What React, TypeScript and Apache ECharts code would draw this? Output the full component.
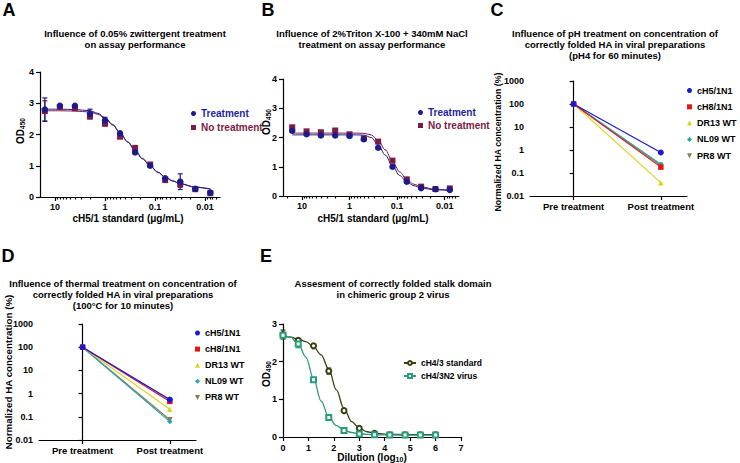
import React, { useEffect, useRef } from 'react';
import * as echarts from 'echarts';

const FONT = '"Liberation Sans", Arial, Helvetica, sans-serif';

// ---------- Panels A & B : cH5/1 standard 2-fold dilutions ----------
const concentrations = [16, 8, 4, 2, 1, 0.5, 0.25, 0.125, 0.0625, 0.03125, 0.015625, 0.0078125];
const aTreatment = [2.8, 2.92, 2.92, 2.66, 2.45, 2.04, 1.43, 1.0, 0.6, 0.49, 0.26, 0.14];
const aTreatmentErr = [0.37, 0, 0, 0.15, 0.1, 0, 0.05, 0, 0, 0.25, 0, 0];
const aNoTreatment = [2.75, 2.88, 2.84, 2.58, 2.35, 1.93, 1.56, 1.04, 0.54, 0.41, 0.25, 0.12];
const aNoTreatmentErr = [0.33, 0, 0, 0.08, 0.08, 0, 0.09, 0.04, 0, 0.1, 0, 0];
const fitConcentrations = [16, 8, 4, 2, 1.4, 1, 0.7, 0.5, 0.35, 0.25, 0.177, 0.125, 0.088, 0.0625, 0.044, 0.03125, 0.0156, 0.0078];
const aTreatmentFit = [2.81, 2.81, 2.8, 2.76, 2.68, 2.54, 2.32, 2.06, 1.76, 1.48, 1.22, 0.99, 0.79, 0.63, 0.51, 0.42, 0.31, 0.25];
const aNoTreatmentFit = [2.76, 2.76, 2.75, 2.72, 2.65, 2.51, 2.3, 2.05, 1.76, 1.49, 1.23, 1.0, 0.8, 0.64, 0.52, 0.43, 0.32, 0.26];

const bTreatment = [2.23, 2.11, 2.07, 2.07, 2.05, 1.94, 1.65, 1.0, 0.49, 0.27, 0.23, 0.21];
const bTreatmentErr = [0.05, 0, 0.04, 0, 0, 0.04, 0, 0.05, 0, 0, 0, 0];
const bNoTreatment = [2.35, 2.21, 2.18, 2.24, 2.11, 1.97, 1.86, 1.21, 0.57, 0.32, 0.24, 0.26];
const bNoTreatmentErr = [0.04, 0.04, 0.04, 0.04, 0, 0, 0.05, 0.05, 0, 0, 0, 0.04];
const bTreatmentFit = [2.09, 2.09, 2.09, 2.09, 2.09, 2.09, 2.09, 2.08, 2.0, 1.75, 1.4, 1.02, 0.7, 0.48, 0.35, 0.27, 0.21, 0.19];
const bNoTreatmentFit = [2.15, 2.15, 2.15, 2.15, 2.15, 2.15, 2.15, 2.14, 2.09, 1.9, 1.58, 1.18, 0.82, 0.56, 0.4, 0.31, 0.23, 0.2];

const logTickValues = [0.01, 0.1, 1, 10];
const minorMultipliers = [2, 3, 4, 5, 6, 7, 8, 9];
const minorDecades = [0.001, 0.01, 0.1, 1, 10];

// ---------- Panels C & D : normalized HA concentration ----------
const treatmentCategories = ['Pre treatment', 'Post treatment'];
const strainNames = ['cH5/1N1', 'cH8/1N1', 'DR13 WT', 'NL09 WT', 'PR8 WT'];
const cPre = [100, 100, 100, 100, 100];
const cPost = [0.78, 0.18, 0.038, 0.24, 0.21];
const dPre = [100, 100, 100, 100, 100];
const dPost = [0.55, 0.46, 0.21, 0.062, 0.075];
const concTickLabels = ['0.01', '0.1', '1', '10', '100', '1000'];

// ---------- Panel E : dilution curves ----------
const dilutionLog = [0, 0.6, 1.2, 1.8, 2.4, 3.0, 3.6, 4.2, 4.8, 5.4, 6.0];
const eStandard = [2.72, 2.57, 2.42, 1.75, 0.7, 0.23, 0.1, 0.06, 0.06, 0.06, 0.06];
const eStandardErr = [0.12, 0, 0, 0.08, 0, 0, 0, 0, 0, 0, 0];
const eVirus = [2.7, 2.47, 1.52, 0.52, 0.17, 0.08, 0.06, 0.05, 0.05, 0.05, 0.05];
const eVirusErr = [0, 0.1, 0, 0, 0, 0, 0, 0, 0, 0, 0];
const eFitX = [0, 0.3, 0.6, 0.9, 1.2, 1.5, 1.8, 2.1, 2.4, 2.7, 3.0, 3.3, 3.6, 4.2, 4.8, 5.4, 6.0];
const eStandardFit = [2.67, 2.65, 2.6, 2.53, 2.4, 2.18, 1.8, 1.25, 0.74, 0.41, 0.23, 0.14, 0.1, 0.07, 0.065, 0.065, 0.065];
const eVirusFit = [2.72, 2.65, 2.47, 2.12, 1.55, 0.95, 0.53, 0.3, 0.18, 0.12, 0.09, 0.07, 0.06, 0.055, 0.05, 0.05, 0.05];

// ---------- styles ----------
const NAVY = '#1b1b8c';
const NAVY_TEXT = '#1f1fa3';
const MAROON = '#7c1b47';
const strainColors = ['#1a1ad6', '#e31616', '#d6d620', '#2aa2b2', '#8a7a50'];
const strainSymbols = ['circle', 'rect', 'triangle', 'diamond', 'path://M0,0L10,0L5,10Z'];
const E_STD = '#3a3e10';
const E_VIRUS = '#2a9c7e';

const AX = { color: '#000', width: 1.2 };
const LBL = { color: '#000', fontWeight: 'bold' as const, fontSize: 9, fontFamily: FONT };

function minorTicks(min: number, max: number) {
  const out: number[] = [];
  minorDecades.forEach((d) => minorMultipliers.forEach((m) => {
    const v = +(d * m).toPrecision(3);
    if (v > min && v < max) out.push(v);
  }));
  return out;
}

function logXAxes(gridIndex: number, min: number, max: number) {
  return [
    {
      type: 'log', gridIndex, min, max, inverse: true, logBase: 10,
      axisLine: { lineStyle: AX }, splitLine: { show: false },
      axisTick: { length: 4, lineStyle: AX, customValues: logTickValues },
      axisLabel: { ...LBL, margin: 5, customValues: logTickValues, formatter: (v: number) => String(+(+v).toPrecision(2)) },
    },
    {
      type: 'log', gridIndex, min, max, inverse: true, logBase: 10, position: 'bottom',
      axisLine: { show: false }, splitLine: { show: false },
      axisTick: { length: 2.5, lineStyle: AX, customValues: minorTicks(min, max) },
      axisLabel: { show: false },
    },
  ];
}

function linYAxis(gridIndex: number, max: number) {
  return {
    type: 'value', gridIndex, min: 0, max, interval: 1,
    axisLine: { show: true, lineStyle: AX }, splitLine: { show: false },
    axisTick: { show: true, length: 4, lineStyle: AX },
    axisLabel: { ...LBL, margin: 6 },
  };
}

function logYAxis(gridIndex: number) {
  return {
    type: 'log', gridIndex, min: 0.01, max: 1000, logBase: 10,
    axisLine: { show: true, lineStyle: AX }, splitLine: { show: false },
    axisTick: { show: true, length: 4, lineStyle: AX },
    axisLabel: { ...LBL, margin: 6, formatter: (v: number) => concTickLabels[Math.round(Math.log10(v)) + 2] },
  };
}

function catXAxis(gridIndex: number) {
  return {
    type: 'value', gridIndex, min: -0.5, max: 1.3,
    axisLine: { lineStyle: AX }, splitLine: { show: false },
    axisTick: { length: 4, lineStyle: AX, customValues: [0, 1] },
    axisLabel: { ...LBL, fontSize: 9.5, margin: 5, customValues: [0, 1], formatter: (v: number) => treatmentCategories[Math.round(v)] },
  };
}

function errorSeries(xi: number, yi: number, xs: number[], ys: number[], errs: number[], color: string) {
  return {
    type: 'custom', xAxisIndex: xi, yAxisIndex: yi, silent: true, z: 3,
    data: xs.map((x, i) => [x, ys[i] - errs[i], ys[i] + errs[i]]).filter((_, i) => errs[i] > 0),
    encode: { x: 0, y: [1, 2] },
    renderItem: (_p: any, api: any) => {
      const x = api.value(0);
      const lo = api.coord([x, api.value(1)]);
      const hi = api.coord([x, api.value(2)]);
      const w = 2.5;
      const st = { stroke: color, lineWidth: 1.2 };
      return {
        type: 'group',
        children: [
          { type: 'line', shape: { x1: lo[0], y1: lo[1], x2: hi[0], y2: hi[1] }, style: st },
          { type: 'line', shape: { x1: hi[0] - w, y1: hi[1], x2: hi[0] + w, y2: hi[1] }, style: st },
          { type: 'line', shape: { x1: lo[0] - w, y1: lo[1], x2: lo[0] + w, y2: lo[1] }, style: st },
        ],
      };
    },
  };
}

function fitSeries(name: string, xi: number, yi: number, xs: number[], ys: number[], color: string, width = 1) {
  return {
    type: 'line', name, xAxisIndex: xi, yAxisIndex: yi, silent: true, z: 2,
    data: xs.map((x, i) => [x, ys[i]]),
    showSymbol: false, symbol: 'none', smooth: 0.35, smoothMonotone: 'x',
    lineStyle: { color, width }, itemStyle: { color },
  };
}

function pointSeries(name: string, xi: number, yi: number, xs: number[], ys: number[], color: string, symbol: string, size = 6) {
  return {
    type: 'scatter', name, xAxisIndex: xi, yAxisIndex: yi, z: 4,
    data: xs.map((x, i) => [x, ys[i]]),
    symbol, symbolSize: size, itemStyle: { color, opacity: 1 },
  };
}

function strainSeries(xi: number, yi: number, pre: number[], post: number[]) {
  const order = [4, 3, 2, 1, 0];
  return order.map((k) => ({
    type: 'line', name: strainNames[k], xAxisIndex: xi, yAxisIndex: yi, z: 3,
    data: [[0, pre[k]], [1, post[k]]],
    symbol: strainSymbols[k], symbolSize: k === 0 ? 6 : 5.5, showSymbol: true,
    lineStyle: { color: strainColors[k], width: 1.2 }, itemStyle: { color: strainColors[k], opacity: 1 },
  }));
}

function text(t: string, x: number, y: number, size: number, extra: any = {}) {
  return {
    type: 'text', x, y, silent: true,
    style: {
      text: t, fill: '#000', fontSize: size, fontWeight: 'bold', fontFamily: FONT,
      textAlign: 'center', textVerticalAlign: 'middle', align: 'center', verticalAlign: 'middle',
      ...extra,
    },
  };
}

function odName(x: number, y: number, sub: string) {
  return {
    type: 'text', x, y, rotation: Math.PI / 2, silent: true,
    style: {
      text: `{a|OD}{b|${sub}}`, fill: '#000', fontFamily: FONT, fontWeight: 'bold',
      textAlign: 'center', textVerticalAlign: 'middle', align: 'center', verticalAlign: 'middle',
      rich: {
        a: { fontSize: 10, fontWeight: 'bold', fontFamily: FONT, lineHeight: 12, fill: '#000' },
        b: { fontSize: 6.5, fontWeight: 'bold', fontFamily: FONT, lineHeight: 12, verticalAlign: 'bottom', fill: '#000' },
      },
    },
  };
}

function rotName(t: string, x: number, y: number, size: number) {
  const el: any = text(t, x, y, size);
  el.rotation = Math.PI / 2;
  return el;
}

function buildOption() {
  const legendText = { fontSize: 10, fontWeight: 'bold' as const, fontFamily: FONT, lineHeight: 11 };
  const strainLegendText = { fontSize: 9, fontWeight: 'bold' as const, fontFamily: FONT, lineHeight: 10, color: '#000' };
  const strainLegendData = strainNames.map((n, k) => ({ name: n, icon: strainSymbols[k] }));

  return {
    animation: false,
    backgroundColor: '#fff',
    grid: [
      { left: 40, top: 72, width: 180, height: 125 },
      { left: 283, top: 79, width: 176, height: 117 },
      { left: 530, top: 81, width: 157, height: 115 },
      { left: 39, top: 324, width: 157, height: 116 },
      { left: 283, top: 324, width: 178, height: 113 },
    ],
    xAxis: [
      ...logXAxes(0, 0.005, 20),
      ...logXAxes(1, 0.005, 25),
      catXAxis(2),
      catXAxis(3),
      {
        type: 'value', gridIndex: 4, min: 0, max: 7, interval: 1,
        axisLine: { lineStyle: AX }, splitLine: { show: false },
        axisTick: { length: 4, lineStyle: AX },
        axisLabel: { ...LBL, margin: 6 },
      },
    ],
    yAxis: [linYAxis(0, 4), linYAxis(1, 4), logYAxis(2), logYAxis(3), linYAxis(4, 3)],
    legend: [
      {
        left: 191, top: 108, orient: 'vertical', padding: 0, itemGap: 3, itemWidth: 5, itemHeight: 5, selectedMode: false,
        textStyle: legendText,
        data: [
          { name: 'Treatment', icon: 'circle', textStyle: { color: NAVY_TEXT } },
          { name: 'No treatment', icon: 'rect', textStyle: { color: MAROON } },
        ],
      },
      {
        left: 418, top: 107, orient: 'vertical', padding: 0, itemGap: 2, itemWidth: 5, itemHeight: 5, selectedMode: false,
        textStyle: legendText,
        data: [
          { name: 'Treatment', icon: 'circle', textStyle: { color: NAVY_TEXT } },
          { name: 'No treatment', icon: 'rect', textStyle: { color: MAROON } },
        ],
      },
      {
        left: 687, top: 85.5, orient: 'vertical', padding: 0, itemGap: 6.3, itemWidth: 5, itemHeight: 5, selectedMode: false,
        textStyle: strainLegendText, data: strainLegendData,
      },
      {
        left: 195, top: 328, orient: 'vertical', padding: 0, itemGap: 6.1, itemWidth: 5, itemHeight: 5, selectedMode: false,
        textStyle: strainLegendText, data: strainLegendData,
      },
      {
        left: 403, top: 358, orient: 'vertical', padding: 0, itemGap: 3, itemWidth: 12, itemHeight: 5, selectedMode: false,
        textStyle: { ...strainLegendText, fontSize: 8.5 },
        data: ['cH4/3 standard', 'cH4/3N2 virus'],
      },
    ],
    series: [
      // A
      fitSeries('A fit no treatment', 0, 0, fitConcentrations, aNoTreatmentFit, MAROON),
      fitSeries('A fit treatment', 0, 0, fitConcentrations, aTreatmentFit, NAVY),
      errorSeries(0, 0, concentrations, aNoTreatment, aNoTreatmentErr, MAROON),
      errorSeries(0, 0, concentrations, aTreatment, aTreatmentErr, NAVY),
      pointSeries('No treatment', 0, 0, concentrations, aNoTreatment, MAROON, 'rect', 6),
      pointSeries('Treatment', 0, 0, concentrations, aTreatment, NAVY, 'circle', 6.5),
      // B
      fitSeries('B fit no treatment', 2, 1, fitConcentrations, bNoTreatmentFit, MAROON),
      fitSeries('B fit treatment', 2, 1, fitConcentrations, bTreatmentFit, NAVY),
      errorSeries(2, 1, concentrations, bNoTreatment, bNoTreatmentErr, MAROON),
      errorSeries(2, 1, concentrations, bTreatment, bTreatmentErr, NAVY),
      pointSeries('No treatment', 2, 1, concentrations, bNoTreatment, MAROON, 'rect', 6),
      pointSeries('Treatment', 2, 1, concentrations, bTreatment, NAVY, 'circle', 6.5),
      // C, D
      ...strainSeries(4, 2, cPre, cPost),
      ...strainSeries(5, 3, dPre, dPost),
      // E
      {
        ...fitSeries('cH4/3 standard', 6, 4, eFitX, eStandardFit, E_STD, 1.3),
        symbol: 'emptyCircle', showSymbol: false,
      },
      {
        ...fitSeries('cH4/3N2 virus', 6, 4, eFitX, eVirusFit, E_VIRUS, 1.3),
        symbol: 'emptyRect', showSymbol: false,
      },
      errorSeries(6, 4, dilutionLog, eStandard, eStandardErr, E_STD),
      errorSeries(6, 4, dilutionLog, eVirus, eVirusErr, E_VIRUS),
      { ...pointSeries('E standard points', 6, 4, dilutionLog, eStandard, E_STD, 'emptyCircle', 5), itemStyle: { color: E_STD, borderWidth: 1.2, opacity: 1 } },
      { ...pointSeries('E virus points', 6, 4, dilutionLog, eVirus, E_VIRUS, 'emptyRect', 5), itemStyle: { color: E_VIRUS, borderWidth: 1.2, opacity: 1 } },
    ],
    graphic: [
      text('A', 9, 10, 18),
      text('B', 268, 10, 18),
      text('C', 497, 10, 18),
      text('D', 8, 256, 18),
      text('E', 266, 256, 18),
      text('Influence of 0.05% zwittergent treatment\non assay performance', 135, 39, 9.5, { lineHeight: 11 }),
      text('Influence of 2%Triton X-100 + 340mM NaCl\ntreatment on assay performance', 372, 39, 9.5, { lineHeight: 11 }),
      text('Influence of pH treatment on concentration of\ncorrectly folded HA in viral preparations\n(pH4 for 60 minutes)', 615, 44, 9.5, { lineHeight: 11 }),
      text('Influence of thermal treatment on concentration of\ncorrectly folded HA in viral preparations\n(100°C for 10 minutes)', 123, 294, 9.5, { lineHeight: 11 }),
      text('Assesment of correctly folded stalk domain\nin chimeric group 2 virus', 393, 289, 9.5, { lineHeight: 11 }),
      text('cH5/1 standard (μg/mL)', 128, 218, 10),
      text('cH5/1 standard (μg/mL)', 373, 218, 10),
      odName(20, 131, '450'),
      odName(266, 122, '450'),
      odName(266, 374, '490'),
      rotName('Normalized HA concentration (%)', 498, 142, 8.8),
      rotName('Normalized HA concentration (%)', 8, 372, 9.8),
      {
        type: 'text', x: 372, y: 457, silent: true,
        style: {
          text: '{a|Dilution (log}{b|10}{a|)}', fill: '#000', fontFamily: FONT, fontWeight: 'bold',
          textAlign: 'center', textVerticalAlign: 'middle', align: 'center', verticalAlign: 'middle',
          rich: {
            a: { fontSize: 10, fontWeight: 'bold', fontFamily: FONT, lineHeight: 12, fill: '#000' },
            b: { fontSize: 7, fontWeight: 'bold', fontFamily: FONT, lineHeight: 12, verticalAlign: 'bottom', fill: '#000' },
          },
        },
      },
    ],
  };
}

export default function App() {
  const ref = useRef<HTMLDivElement>(null);
  useEffect(() => {
    if (!ref.current) return;
    const chart = echarts.init(ref.current, null, { renderer: 'svg' });
    chart.setOption(buildOption() as any);
    return () => chart.dispose();
  }, []);
  return (
    <div
      ref={ref}
      style={{ position: 'fixed', left: 0, top: 0, width: 740, height: 463, background: '#fff' }}
    />
  );
}
